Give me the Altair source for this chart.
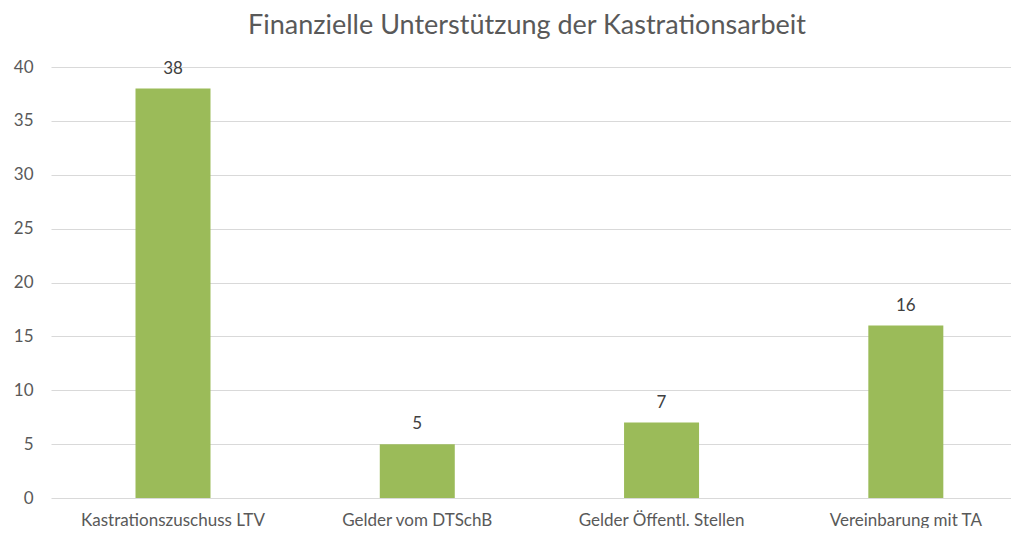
import altair as alt
import pandas as pd

categories = ["Kastrationszuschuss LTV", "Gelder vom DTSchB", "Gelder Öffentl. Stellen", "Vereinbarung mit TA"]
values = [38, 5, 7, 16]

df = pd.DataFrame({"cat": categories, "val": values})

FONT = "Lato"
GREY = "#595959"

x = alt.X("cat:N", sort=categories, title=None,
          scale=alt.Scale(paddingInner=0.2, paddingOuter=0.065, align=0.765),
          axis=alt.Axis(labelAngle=0, labelFont=FONT, labelFontSize=17, labelColor=GREY,
                        ticks=False, domain=False, labelPadding=14, grid=False,
                        labelLimit=0))
y = alt.Y("val:Q", title=None,
          scale=alt.Scale(domain=[0, 40], nice=False),
          axis=alt.Axis(values=list(range(0, 41, 5)), labelFont=FONT, labelFontSize=17,
                        labelColor=GREY, ticks=False, domain=False, gridColor="#D9D9D9",
                        gridWidth=1, labelPadding=18, minExtent=43, maxExtent=43))

bars = alt.Chart(df).mark_bar(color="#9BBB59", size=75).encode(x=x, y=y)
labels = alt.Chart(df).mark_text(font=FONT, fontSize=17, color="#404040", dy=-11,
                                 baseline="bottom").encode(
    x=alt.X("cat:N", sort=categories),
    y=alt.Y("val:Q"),
    text="val:Q")

chart = (bars + labels).properties(
    width=960, height=431,
    title=alt.TitleParams("Finanzielle Unterstützung der Kastrationsarbeit",
                          font=FONT, fontSize=27, fontWeight="normal", color=GREY,
                          anchor="middle", offset=18, dx=-4),
    padding={"left": 0, "top": 4, "right": 0, "bottom": 0},
).configure_view(stroke=None)

chart.save("out.html", embed_options={"renderer": "svg", "actions": False})
